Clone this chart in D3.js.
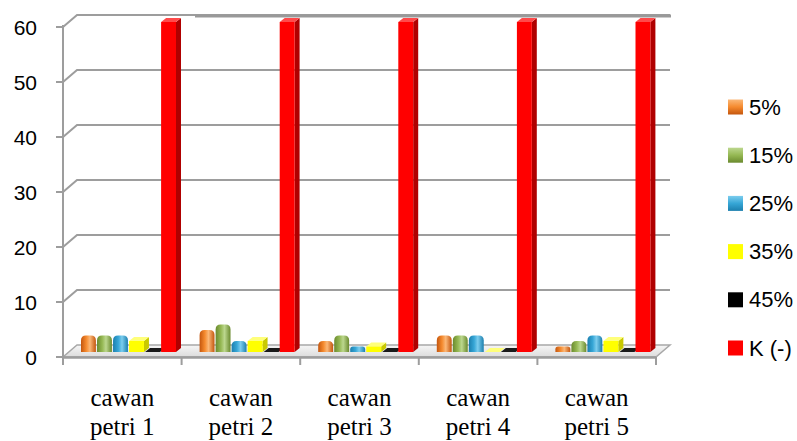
<!DOCTYPE html>
<html>
<head>
<meta charset="utf-8">
<script src="https://cdn.jsdelivr.net/npm/d3@7"></script>
<style>
  html, body { margin: 0; padding: 0; background: #fff; }
  svg { display: block; }
</style>
</head>
<body>
<svg id="chart" width="797" height="441"></svg>
<script>
// Colony counts per petri dish for each concentration and the negative control
const categories = ["cawan petri 1", "cawan petri 2", "cawan petri 3", "cawan petri 4", "cawan petri 5"];
const seriesNames = ["5%", "15%", "25%", "35%", "45%", "K (-)"];
const s5  = [3, 4, 2, 3, 1];
const s15 = [3, 5, 3, 3, 2];
const s25 = [3, 2, 1, 3, 3];
const s35 = [2, 2, 1, 0, 2];
const s45 = [0, 0, 0, 0, 0];
const sK  = [60, 60, 60, 60, 60];
const yTicks = [0, 10, 20, 30, 40, 50, 60];

const seriesValues = [s5, s15, s25, s35, s45, sK];

// Visual styles per series: "cyl" = beveled round column, "box" = 3D box
const styles = [
  { kind: "cyl", dark: "#c4560e", mid: "#f58a2e", light: "#fbb878" },
  { kind: "cyl", dark: "#6a8a2e", mid: "#95b853", light: "#bcd78e" },
  { kind: "cyl", dark: "#1c7fae", mid: "#36a6d6", light: "#7ccdee" },
  { kind: "box", front: "#ffff00", side: "#c9c900", top: "#ffff7a" },
  { kind: "box", front: "#000000", side: "#000000", top: "#1a1a1a" },
  { kind: "box", front: "#ff0000", side: "#b00000", top: "#ff4a4a" }
];

const svg = d3.select("#chart");
const defs = svg.append("defs");

// Plot geometry (front plane of the 3D box)
const xLeft = 63, xRight = 656;
const wallDx = 14, wallDy = 12;   // offset from front plane to back wall
const barDx = 6, barDy = 5;       // offset of the bar plane
const sideDx = 5, sideDy = 4;     // depth of each box

const x = d3.scaleBand().domain(categories).range([xLeft, xRight]).padding(0);
const y = d3.scaleLinear().domain([0, 60]).range([357, 27]);
const inner = d3.scaleBand().domain(seriesNames)
  .range([12, 12 + 95]).paddingInner(0.07).paddingOuter(0);

const grid = "#9d9d9d";

// Back wall gridlines with the diagonal link to the value axis
const gridG = svg.append("g");
yTicks.filter(v => v > 0).forEach(v => {
  const yy = y(v);
  gridG.append("path")
    .attr("d", `M${xLeft},${yy} L${xLeft + wallDx},${yy - wallDy} L${xRight + wallDx},${yy - wallDy}`)
    .attr("fill", "none").attr("stroke", grid).attr("stroke-width", 2);
});
// heavier segment on the top edge of the wall
gridG.append("line")
  .attr("x1", 195).attr("x2", xRight + wallDx + 1)
  .attr("y1", y(60) - wallDy + 1).attr("y2", y(60) - wallDy + 1)
  .attr("stroke", "#999").attr("stroke-width", 3);

// Floor
const y0 = y(0);
const floorGrad = defs.append("linearGradient").attr("id", "floorGrad")
  .attr("x1", "0").attr("x2", "0").attr("y1", "0").attr("y2", "1");
floorGrad.append("stop").attr("offset", "0").attr("stop-color", "#f6f6f6");
floorGrad.append("stop").attr("offset", "1").attr("stop-color", "#dcdcdc");
svg.append("path")
  .attr("d", `M${xLeft},${y0} L${xRight},${y0} L${xRight + wallDx},${y0 - wallDy} L${xLeft + wallDx},${y0 - wallDy} Z`)
  .attr("fill", "url(#floorGrad)").attr("stroke", "#a8a8a8").attr("stroke-width", 1.5);

// Gradients for the round columns
styles.forEach((s, i) => {
  if (s.kind !== "cyl") return;
  const g = defs.append("linearGradient").attr("id", "cg" + i)
    .attr("x1", "0").attr("x2", "1").attr("y1", "0").attr("y2", "0");
  g.append("stop").attr("offset", "0").attr("stop-color", s.dark);
  g.append("stop").attr("offset", "0.35").attr("stop-color", s.mid);
  g.append("stop").attr("offset", "0.6").attr("stop-color", s.light);
  g.append("stop").attr("offset", "1").attr("stop-color", s.dark);
});

// Bars
const barsG = svg.append("g");
categories.forEach((cat, ci) => {
  seriesNames.forEach((sn, si) => {
    const v = seriesValues[si][ci];
    const s = styles[si];
    const bx = x(cat) + inner(sn) + barDx;
    const w = inner.bandwidth();
    const base = y(0) - barDy;
    const top = y(v) - barDy;
    if (s.kind === "box") {
      barsG.append("path")
        .attr("d", `M${bx + w},${top} L${bx + w + sideDx},${top - sideDy} L${bx + w + sideDx},${base - sideDy} L${bx + w},${base} Z`)
        .attr("fill", s.side);
      barsG.append("path")
        .attr("d", `M${bx},${top} L${bx + w},${top} L${bx + w + sideDx},${top - sideDy} L${bx + sideDx},${top - sideDy} Z`)
        .attr("fill", s.top);
      barsG.append("rect")
        .attr("x", bx).attr("y", top).attr("width", w).attr("height", Math.max(0, base - top))
        .attr("fill", s.front);
    } else {
      const h = base - top;
      const r = Math.min(5, h / 2);
      barsG.append("path")
        .attr("d", `M${bx},${base} L${bx},${top + r} Q${bx},${top} ${bx + r},${top} L${bx + w - r},${top} Q${bx + w},${top} ${bx + w},${top + r} L${bx + w},${base} Z`)
        .attr("fill", `url(#cg${si})`);
    }
  });
});

// Front edge of the floor and category axis
svg.append("line")
  .attr("x1", xLeft).attr("x2", xRight).attr("y1", y0 + 0.5).attr("y2", y0 + 0.5)
  .attr("stroke", "#9d9d9d").attr("stroke-width", 2.5);
const catBounds = categories.map(c => x(c)).concat([xRight]);
catBounds.forEach(xx => {
  svg.append("line")
    .attr("x1", xx).attr("x2", xx).attr("y1", y0).attr("y2", y0 + 8)
    .attr("stroke", "#9d9d9d").attr("stroke-width", 2);
});

// Value axis
svg.append("line")
  .attr("x1", xLeft).attr("x2", xLeft).attr("y1", y(60) - 2).attr("y2", y0 + 8)
  .attr("stroke", "#9d9d9d").attr("stroke-width", 2);
yTicks.forEach(v => {
  svg.append("line")
    .attr("x1", xLeft - 7).attr("x2", xLeft).attr("y1", y(v)).attr("y2", y(v))
    .attr("stroke", "#9d9d9d").attr("stroke-width", 2);
  svg.append("text")
    .attr("x", 37).attr("y", y(v))
    .attr("text-anchor", "end").attr("dominant-baseline", "central")
    .attr("font-family", "Liberation Sans, Arial, sans-serif").attr("font-size", 21)
    .attr("fill", "#000").text(v);
});

// Category labels (two lines)
categories.forEach(cat => {
  const cx = x(cat) + x.bandwidth() / 2;
  const words = cat.split(" ");
  const lines = [words[0], words.slice(1).join(" ")];
  lines.forEach((ln, li) => {
    svg.append("text")
      .attr("x", cx).attr("y", 406 + li * 29)
      .attr("text-anchor", "middle")
      .attr("font-family", "Liberation Serif, Times New Roman, serif").attr("font-size", 25)
      .attr("fill", "#000").text(ln);
  });
});

// Legend
const legendY = d3.scalePoint().domain(seriesNames).range([107, 348]);
const legG = svg.append("g");
seriesNames.forEach((sn, si) => {
  const s = styles[si];
  const ly = legendY(sn);
  const sq = legG.append("rect")
    .attr("x", 728).attr("y", ly - 7.5).attr("width", 15).attr("height", 15);
  if (s.kind === "cyl") {
    const lg = defs.append("linearGradient").attr("id", "lg" + si)
      .attr("x1", "0").attr("x2", "0").attr("y1", "0").attr("y2", "1");
    lg.append("stop").attr("offset", "0").attr("stop-color", s.light);
    lg.append("stop").attr("offset", "0.5").attr("stop-color", s.mid);
    lg.append("stop").attr("offset", "1").attr("stop-color", s.dark);
    sq.attr("fill", `url(#lg${si})`);
  } else {
    sq.attr("fill", s.front);
  }
  legG.append("text")
    .attr("x", 749).attr("y", ly)
    .attr("dominant-baseline", "central")
    .attr("font-family", "Liberation Sans, Arial, sans-serif").attr("font-size", 22)
    .attr("fill", "#000").text(sn);
});
</script>
</body>
</html>
